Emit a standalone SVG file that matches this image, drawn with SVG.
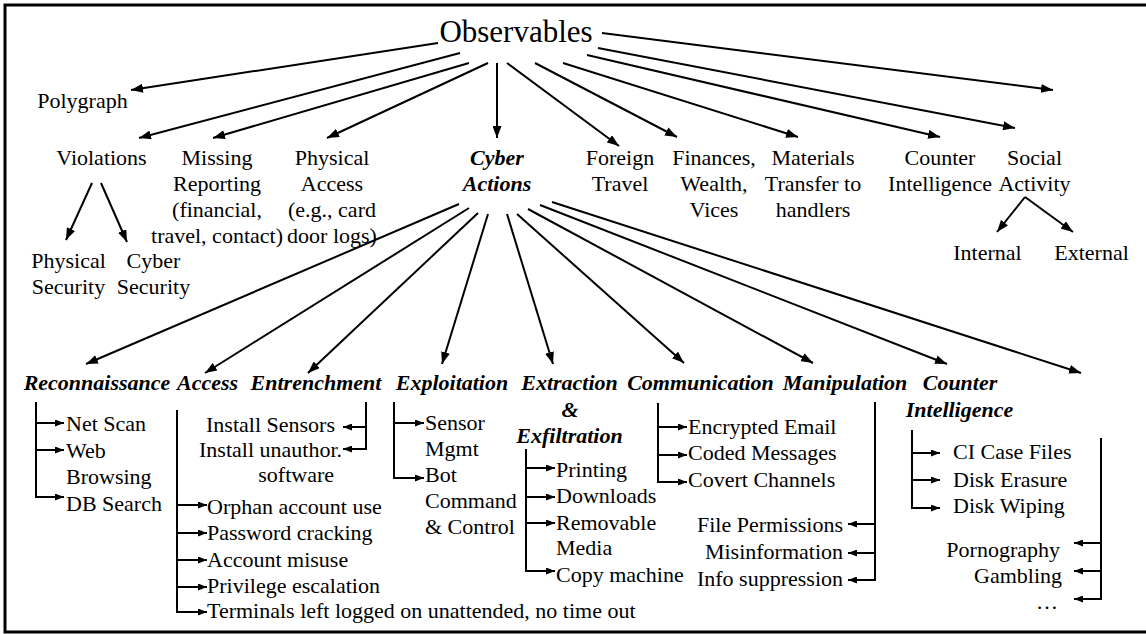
<svg xmlns="http://www.w3.org/2000/svg" width="1146" height="634" viewBox="0 0 1146 634" font-family="'Liberation Serif', Tinos, 'Times New Roman', 'DejaVu Serif', serif">
<style>
text { font-family: "Liberation Serif", Tinos, "Times New Roman", "DejaVu Serif", serif; font-size: 22px; fill: #000; }
.bi { font-weight: bold; font-style: italic; }
.c { text-anchor: middle; }
.e { text-anchor: end; }
.big { font-size: 31px; }
#connectors line, #connectors path { stroke: #000; stroke-width: 2; fill: none; }
#connectors .m { marker-end: url(#ah); }
#connectors .s { marker-end: url(#sh); }
</style>
<defs>
<marker id="ah" markerUnits="userSpaceOnUse" markerWidth="12" markerHeight="9" viewBox="0 0 12 9" refX="12" refY="4.5" orient="auto">
<path d="M0,0 L12,4.5 L0,9 z" fill="#000"/>
</marker>
<marker id="sh" markerUnits="userSpaceOnUse" markerWidth="9" markerHeight="7" viewBox="0 0 9 7" refX="9" refY="3.5" orient="auto">
<path d="M0,0 L9,3.5 L0,7 z" fill="#000"/>
</marker>
</defs>
<rect x="5" y="5" width="1150" height="627" fill="#fff" stroke="#000" stroke-width="3"/>

<g id="connectors">
<line class="m" x1="438" y1="43" x2="131" y2="90"/>
<line class="m" x1="460" y1="53" x2="139" y2="138"/>
<line class="m" x1="469" y1="63" x2="213" y2="138"/>
<line class="m" x1="488" y1="63" x2="327" y2="138"/>
<line class="m" x1="497" y1="63" x2="497" y2="138"/>
<line class="m" x1="507" y1="63" x2="619" y2="146"/>
<line class="m" x1="535" y1="63" x2="677" y2="137"/>
<line class="m" x1="563" y1="63" x2="798" y2="137"/>
<line class="m" x1="587" y1="55" x2="940" y2="137"/>
<line class="m" x1="598" y1="48" x2="1015" y2="128"/>
<line class="m" x1="602" y1="33" x2="1053" y2="90"/>

<line class="m" x1="92" y1="183" x2="66" y2="240"/>
<line class="m" x1="101" y1="183" x2="127" y2="242"/>
<line class="m" x1="1025" y1="197" x2="997" y2="232"/>
<line class="m" x1="1025" y1="197" x2="1073" y2="232"/>

<line class="m" x1="459" y1="204" x2="86" y2="364"/>
<line class="m" x1="469" y1="208" x2="205" y2="373"/>
<line class="m" x1="478" y1="213" x2="308" y2="373"/>
<line class="m" x1="488" y1="214" x2="442" y2="364"/>
<line class="m" x1="507" y1="214" x2="553" y2="364"/>
<line class="m" x1="517" y1="214" x2="684" y2="363"/>
<line class="m" x1="528" y1="209" x2="813" y2="363"/>
<line class="m" x1="540" y1="205" x2="947" y2="364"/>
<line class="m" x1="552" y1="202" x2="1081" y2="373"/>

<path class="s" d="M36,402 V497 H64"/>
<path class="s" d="M36,423 H64"/>
<path class="s" d="M36,450 H64"/>
<path class="s" d="M177,410 V612 H207"/>
<path class="s" d="M177,505 H207"/>
<path class="s" d="M177,533 H207"/>
<path class="s" d="M177,560 H207"/>
<path class="s" d="M177,587 H207"/>
<path class="s" d="M366,402 V449 H343"/>
<path class="s" d="M366,427 H343"/>
<path class="s" d="M394,402 V478 H424"/>
<path class="s" d="M394,423 H424"/>
<path class="s" d="M526,449 V571 H555"/>
<path class="s" d="M526,468 H555"/>
<path class="s" d="M526,497 H555"/>
<path class="s" d="M526,523 H555"/>
<path class="s" d="M658,403 V482 H687"/>
<path class="s" d="M658,427 H687"/>
<path class="s" d="M658,455 H687"/>
<path class="s" d="M875,402 V580 H848"/>
<path class="s" d="M875,524 H848"/>
<path class="s" d="M875,553 H848"/>
<path class="s" d="M912,430 V508 H940"/>
<path class="s" d="M912,453 H940"/>
<path class="s" d="M912,480 H940"/>
<path class="s" d="M1101,438 V599 H1074"/>
<path class="s" d="M1101,543 H1074"/>
<path class="s" d="M1101,571 H1074"/>
</g>

<g id="n-observables"><text class="c big" x="516" y="42">Observables</text></g>
<g id="n-polygraph"><text class="c" x="82.5" y="108">Polygraph</text></g>
<g id="n-violations"><text class="c" x="101.5" y="165">Violations</text></g>
<g id="n-missing"><text class="c" x="217" y="165">Missing</text><text class="c" x="217" y="191">Reporting</text><text class="c" x="217" y="217">(financial,</text><text class="c" x="217" y="243">travel, contact)</text></g>
<g id="n-physaccess"><text class="c" x="332" y="165">Physical</text><text class="c" x="332" y="191">Access</text><text class="c" x="332" y="217">(e.g., card</text><text class="c" x="332" y="243">door logs)</text></g>
<g id="n-cyber"><text class="c bi" x="497" y="165">Cyber</text><text class="c bi" x="497" y="191">Actions</text></g>
<g id="n-foreign"><text class="c" x="620" y="165">Foreign</text><text class="c" x="620" y="191">Travel</text></g>
<g id="n-finances"><text class="c" x="714" y="165">Finances,</text><text class="c" x="714" y="191">Wealth,</text><text class="c" x="714" y="217">Vices</text></g>
<g id="n-materials"><text class="c" x="813" y="165">Materials</text><text class="c" x="813" y="191">Transfer to</text><text class="c" x="813" y="217">handlers</text></g>
<g id="n-counter"><text class="c" x="940" y="165">Counter</text><text class="c" x="940" y="191">Intelligence</text></g>
<g id="n-social"><text class="c" x="1034.5" y="165">Social</text><text class="c" x="1034.5" y="191">Activity</text></g>
<g id="n-internal"><text class="c" x="987.5" y="260">Internal</text></g>
<g id="n-external"><text class="c" x="1091.5" y="260">External</text></g>
<g id="n-physsec"><text class="c" x="68.5" y="268">Physical</text><text class="c" x="68.5" y="294">Security</text></g>
<g id="n-cybersec"><text class="c" x="153.5" y="268">Cyber</text><text class="c" x="153.5" y="294">Security</text></g>

<g id="n-recon"><text class="c bi" x="97" y="390">Reconnaissance</text>
<text x="66" y="431">Net Scan</text><text x="66" y="458">Web</text><text x="66" y="484">Browsing</text><text x="66" y="511">DB Search</text></g>
<g id="n-access"><text class="c bi" x="207.5" y="390">Access</text>
<text x="207" y="514">Orphan account use</text><text x="207" y="540">Password cracking</text><text x="207" y="567">Account misuse</text><text x="207" y="593">Privilege escalation</text><text x="207" y="618">Terminals left logged on unattended, no time out</text></g>
<g id="n-entrench"><text class="c bi" x="316" y="390">Entrenchment</text>
<text class="e" x="335" y="432">Install Sensors</text><text class="e" x="342" y="457">Install unauthor.</text><text class="e" x="334" y="482">software</text></g>
<g id="n-exploit"><text class="c bi" x="452" y="390">Exploitation</text>
<text x="425" y="430">Sensor</text><text x="425" y="456">Mgmt</text><text x="425" y="482">Bot</text><text x="425" y="508">Command</text><text x="425" y="534">&amp; Control</text></g>
<g id="n-extract"><text class="c bi" x="569.5" y="390">Extraction</text><text class="c bi" x="570" y="417">&amp;</text><text class="c bi" x="569.5" y="443">Exfiltration</text>
<text x="556" y="477">Printing</text><text x="556" y="503">Downloads</text><text x="556" y="530">Removable</text><text x="556" y="555">Media</text><text x="556" y="582">Copy machine</text></g>
<g id="n-comm"><text class="c bi" x="700.5" y="390">Communication</text>
<text x="688" y="434">Encrypted Email</text><text x="688" y="460">Coded Messages</text><text x="688" y="487">Covert Channels</text></g>
<g id="n-manip"><text class="c bi" x="845" y="390">Manipulation</text>
<text class="e" x="843" y="532">File Permissions</text><text class="e" x="843" y="559">Misinformation</text><text class="e" x="843" y="586">Info suppression</text></g>
<g id="n-ci"><text class="c bi" x="960" y="390">Counter</text><text class="c bi" x="959.5" y="417">Intelligence</text>
<text x="953" y="459">CI Case Files</text><text x="953" y="487">Disk Erasure</text><text x="953" y="513">Disk Wiping</text></g>
<g id="n-vices"><text class="e" x="1060" y="557">Pornography</text><text class="e" x="1062" y="583">Gambling</text><text class="e" x="1058" y="609">…</text></g>
</svg>
